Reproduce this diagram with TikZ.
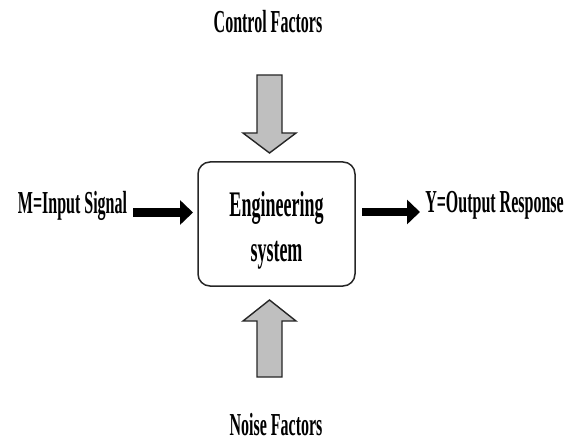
\documentclass[tikz,border=0pt]{standalone}
\usepackage{graphicx}
\usepackage{fontspec}
\setmainfont{Liberation Serif}
\usetikzlibrary{arrows.meta,calc}
\newcommand\sqz[1]{\scalebox{0.5}[1]{#1}}
\begin{document}
\begin{tikzpicture}[x=1pt,y=-1pt,
  lbl/.style={font=\fontsize{32}{38}\selectfont\bfseries, inner sep=0pt, anchor=base},
  sysbox/.style={draw=black!85, line width=1.5pt, rounded corners=12pt, minimum width=157pt, minimum height=124pt, inner sep=0pt},
  blockarrow/.style={draw=black!85, fill=gray!50, line width=1.4pt, line join=miter},
  bigarrow/.style={line width=8pt, -{Triangle[length=13pt,width=24pt]}}
]
\useasboundingbox (0,0) rectangle (576,441);

% texts
\node[lbl] (ctl) at (268,33) {\sqz{Control Factors}};
\node[lbl] (noise) at (276,435.5) {\sqz{Noise Factors}};
\node[lbl] (in) at (72.5,213) {\sqz{M=Input Signal}};
\node[lbl] (out) at (494.5,212) {\sqz{Y=Output Response}};

% system box
\node[sysbox] (sys) at (276.5,224) {};
\node[font=\fontsize{36}{45}\selectfont\bfseries, align=center, inner sep=0pt] (syslbl) at (276.5,230) {\sqz{Engineering}\\\sqz{system}};

% horizontal arrows
\coordinate (inA) at (133,212.5);
\coordinate (inB) at (193,212.5);
\coordinate (outA) at (362,212);
\coordinate (outB) at (420,212);
\draw[bigarrow] (inA) -- (inB);
\draw[bigarrow] (outA) -- (outB);

% control factors arrow (down)
\coordinate (ctip) at (269.5,153);
\draw[blockarrow] ($(ctip)+(-12.5,-78)$) -- ($(ctip)+(12.5,-78)$) -- ($(ctip)+(12.5,-20)$) -- ($(ctip)+(26.5,-20)$) -- (ctip) -- ($(ctip)+(-26.5,-20)$) -- ($(ctip)+(-12.5,-20)$) -- cycle;

% noise factors arrow (up)
\coordinate (ntip) at (269.5,300);
\draw[blockarrow] (ntip) -- ($(ntip)+(26.5,21)$) -- ($(ntip)+(12.5,21)$) -- ($(ntip)+(12.5,77)$) -- ($(ntip)+(-12.5,77)$) -- ($(ntip)+(-12.5,21)$) -- ($(ntip)+(-26.5,21)$) -- cycle;
\end{tikzpicture}
\end{document}
